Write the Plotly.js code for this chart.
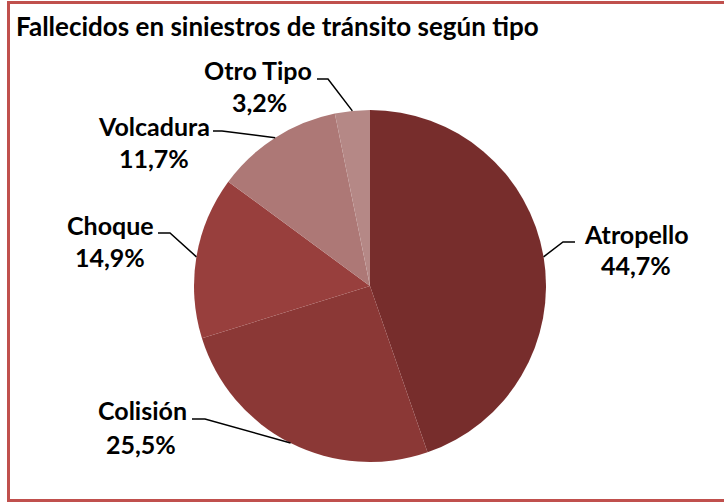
<!DOCTYPE html>
<html><head><meta charset="utf-8">
<script src="https://cdn.plot.ly/plotly-3.0.1.min.js"></script>
<style>html,body{margin:0;padding:0;background:#fff}#chart{width:724px;height:502px}</style>
</head><body><div id="chart"></div>
<script>
// ---- data ----
const categories = ['Atropello', 'Colisión', 'Choque', 'Volcadura', 'Otro Tipo'];
const values = [44.7, 25.5, 14.9, 11.7, 3.2];
const sliceColors = ['#772D2C', '#8B3836', '#983F3D', '#AD7876', '#B58886'];
const chartTitle = 'Fallecidos en siniestros de tránsito según tipo';

// ---- layout geometry (pixels) ----
const W = 724, H = 502;
const cx = 370, cy = 286, R = 176;
// label placement: [nameX, nameY, pctX, pctY, elbowX, elbowY, endX, endY]
const labelPos = [
  [636, 234, 636, 265, 563, 242, 575, 242],
  [142, 410, 141, 444, 205, 419, 192, 419],
  [110, 225, 110, 257, 170, 233, 158, 233],
  [154, 126, 154, 158, 222, 131, 213, 131],
  [258, 70, 259, 102, 328, 79, 317, 79]
];

const px = x => x / W, py = y => 1 - y / H;
const font = {family: 'Lato, Carlito, Calibri, sans-serif', size: 25, color: '#000', weight: 700};

const total = values.reduce((a, b) => a + b, 0);
let cum = 0;
const shapes = [];
const annotations = [];
values.forEach((v, i) => {
  const mid = (cum + v / 2) / total * 2 * Math.PI;
  cum += v;
  const ax = cx + R * Math.sin(mid), ay = cy - R * Math.cos(mid);
  const p = labelPos[i];
  shapes.push({type: 'path', xref: 'paper', yref: 'paper',
    path: `M ${px(ax)} ${py(ay)} L ${px(p[4])} ${py(p[5])} L ${px(p[6])} ${py(p[7])}`,
    line: {color: '#000', width: 1.5}});
  annotations.push({xref: 'paper', yref: 'paper', x: px(p[0]), y: py(p[1]), text: categories[i],
    showarrow: false, xanchor: 'center', yanchor: 'middle', font: font});
  annotations.push({xref: 'paper', yref: 'paper', x: px(p[2]), y: py(p[3]),
    text: v.toFixed(1).replace('.', ',') + '%',
    showarrow: false, xanchor: 'center', yanchor: 'middle', font: font});
});

shapes.push({type: 'rect', xref: 'paper', yref: 'paper',
  x0: px(8.5), x1: px(740), y0: py(500.5), y1: py(2.5),
  line: {color: '#C0504D', width: 3}});

const trace = {
  type: 'pie', labels: categories, values: values, sort: false,
  direction: 'clockwise', rotation: 0, textinfo: 'none', hoverinfo: 'label+percent',
  marker: {colors: sliceColors, line: {width: 0}},
  domain: {x: [px(cx - R), px(cx + R)], y: [py(cy + R), py(cy - R)]},
  showlegend: false
};

const layout = {
  width: W, height: H, margin: {l: 0, r: 0, t: 0, b: 0},
  paper_bgcolor: '#fff', plot_bgcolor: '#fff',
  title: {text: chartTitle, x: px(16), xanchor: 'left', y: py(27), yanchor: 'middle',
    font: {family: 'Lato, Carlito, Calibri, sans-serif', size: 26, color: '#000', weight: 700}},
  shapes: shapes, annotations: annotations, showlegend: false
};

Plotly.newPlot('chart', [trace], layout, {displayModeBar: false, staticPlot: true});
</script>
</body></html>
